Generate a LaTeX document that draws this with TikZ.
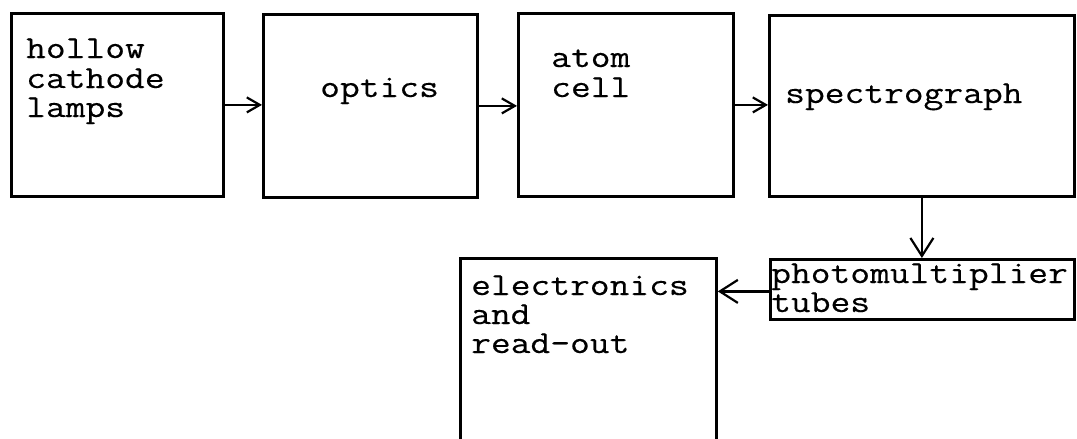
\documentclass[tikz,border=0pt]{standalone}
\usepackage{fontspec}
\setmonofont[FakeStretch=1.2,FakeBold=0.3]{Latin Modern Mono}
\usetikzlibrary{arrows.meta}
\tikzset{
  blockbox/.style={draw=black, line width=2.8pt, rectangle, inner sep=0pt, anchor=north west},
  txt/.style={anchor=base west, inner sep=0pt, font=\ttfamily\fontsize{32}{30}\selectfont, text=black},
  flow/.style={line width=2.2pt, -{Straight Barb[length=13pt,width=15pt,line width=2.2pt]}},
  bigflow/.style={line width=2.2pt, -{Straight Barb[length=18pt,width=23pt,line width=2.2pt]}}
}
\begin{document}
\begin{tikzpicture}[x=1pt,y=-1pt]
\clip (0,0) rectangle (1077,439);
\fill[white] (0,0) rectangle (1077,439);
% boxes
\node[blockbox, minimum width=212pt, minimum height=183pt] (lamps) at (10,12) {};
\node[blockbox, minimum width=214pt, minimum height=183pt] (optics) at (262,13) {};
\node[blockbox, minimum width=215pt, minimum height=183pt] (cell) at (517,12) {};
\node[blockbox, minimum width=305pt, minimum height=181pt] (spec) at (768,14) {};
\node[blockbox, minimum width=304pt, minimum height=60pt] (pmt) at (769,258) {};
\node[blockbox, minimum width=256pt, minimum height=210pt] (elec) at (459,257) {};
% texts
\node[txt] (l1) at (26,58) {hollow};
\node[txt] (l2) at (26,88) {cathode};
\node[txt] (l3) at (26,117) {lamps};
\node[txt] (o1) at (320,97) {optics};
\node[txt] (a1) at (551,67) {atom};
\node[txt] (a2) at (551,97) {cell};
\node[txt] (s1) at (785,103) {spectrograph};
\node[txt] (p1) at (771,283) {photomultiplier};
\node[txt] (p2) at (771,312) {tubes};
\node[txt] (e1) at (471,295) {electronics};
\node[txt] (e2) at (471,324) {and};
\node[txt] (e3) at (471,353) {read-out};
% connectors
\draw[flow] (lamps.east) -- (optics.west |- lamps.east);
\draw[flow] (optics.east) -- (cell.west |- optics.east);
\draw[flow] (cell.east) -- (spec.west |- cell.east);
\draw[bigflow] (spec.south) -- (pmt.north -| spec.south);
\draw[bigflow] (pmt.west) ++(0,2) coordinate (pmtl) -- (elec.east |- pmtl);
\end{tikzpicture}
\end{document}
